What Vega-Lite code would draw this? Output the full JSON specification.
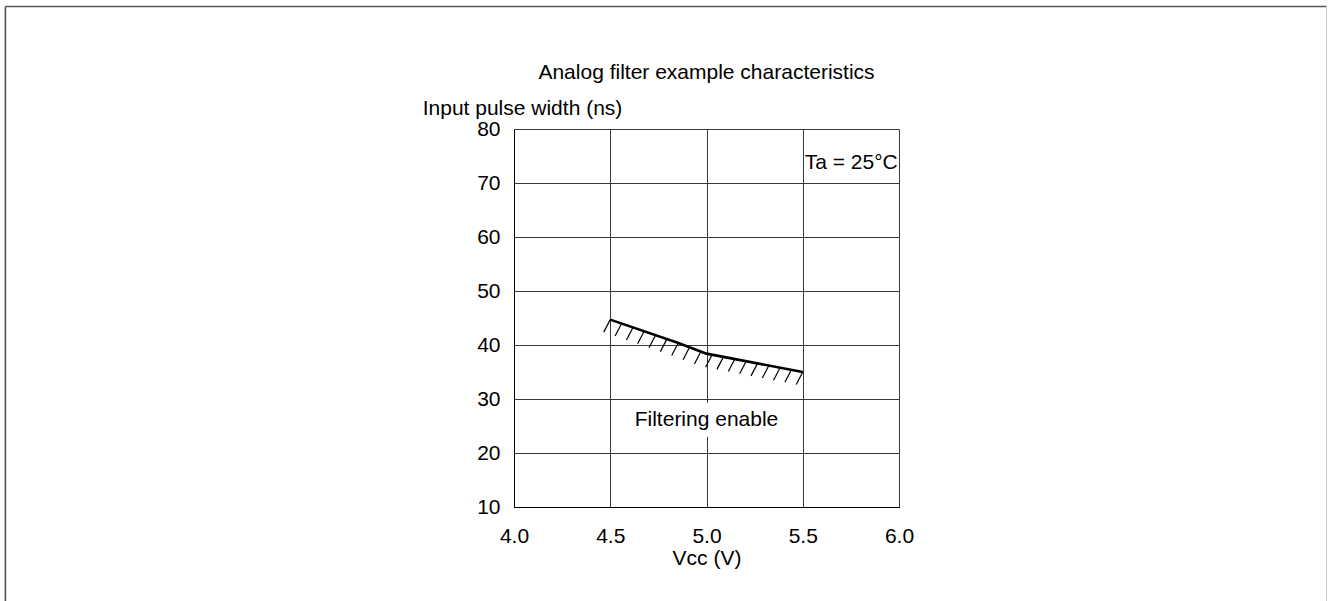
{
  "$schema": "https://vega.github.io/schema/vega-lite/v6.json",
  "width": 385,
  "height": 378,
  "autosize": {"type": "none"},
  "padding": {"left": 514, "top": 129, "right": 429, "bottom": 94},
  "background": "white",
  "title": {
    "text": "Analog filter example characteristics",
    "fontSize": 21,
    "fontWeight": "normal",
    "font": "Liberation Sans",
    "color": "black",
    "anchor": "middle",
    "frame": "group",
    "offset": -77
  },
  "config": {
    "font": "Liberation Sans",
    "view": {"stroke": null},
    "axis": {
      "labelFont": "Liberation Sans",
      "titleFont": "Liberation Sans",
      "labelFontSize": 21,
      "titleFontSize": 21,
      "titleFontWeight": "normal",
      "labelColor": "black",
      "titleColor": "black",
      "domainColor": "black",
      "domainWidth": 1,
      "gridColor": "#3a3a3a",
      "gridWidth": 1,
      "gridOpacity": 1,
      "ticks": false,
      "tickSize": 0,
      "labelFlush": false,
      "labelOverlap": false
    }
  },
  "datasets": {
    "curve": [
      {"vcc": 4.5, "ns": 44.7},
      {"vcc": 4.85, "ns": 40.4},
      {"vcc": 5.0, "ns": 38.4},
      {"vcc": 5.5, "ns": 35.0}
    ],
    "hatch": [
      {"vcc": 4.5, "ns": 44.7},
      {"vcc": 4.559, "ns": 43.97},
      {"vcc": 4.618, "ns": 43.25},
      {"vcc": 4.676, "ns": 42.54},
      {"vcc": 4.735, "ns": 41.81},
      {"vcc": 4.794, "ns": 41.09},
      {"vcc": 4.853, "ns": 40.36},
      {"vcc": 4.912, "ns": 39.57},
      {"vcc": 4.971, "ns": 38.79},
      {"vcc": 5.029, "ns": 38.2},
      {"vcc": 5.088, "ns": 37.8},
      {"vcc": 5.147, "ns": 37.4},
      {"vcc": 5.206, "ns": 37.0},
      {"vcc": 5.265, "ns": 36.6},
      {"vcc": 5.324, "ns": 36.2},
      {"vcc": 5.382, "ns": 35.8},
      {"vcc": 5.441, "ns": 35.4},
      {"vcc": 5.5, "ns": 35.0}
    ],
    "notes": [
      {"vcc": 5.5, "ns": 73.7, "label": "Ta = 25°C", "kind": "left"},
      {"vcc": 5.0, "ns": 26.1, "label": "Filtering enable", "kind": "center"}
    ],
    "textbox": [
      {"vcc": 4.65, "vcc2": 5.35, "ns": 29.3, "ns2": 23.0}
    ],
    "frameDark": [
      {"vcc": 1.358, "vcc2": 1.358, "ns": 102.69, "ns2": -8.15},
      {"vcc": 1.358, "vcc2": 8.221, "ns": 102.69, "ns2": 102.69}
    ],
    "frameLight": [
      {"vcc": 8.221, "vcc2": 8.221, "ns": 102.69, "ns2": -8.15}
    ]
  },
  "encoding": {
    "x": {
      "field": "vcc",
      "type": "quantitative",
      "scale": {"domain": [4, 6], "nice": false, "zero": false},
      "axis": {
        "values": [4, 4.5, 5, 5.5, 6],
        "format": ".1f",
        "title": "Vcc (V)",
        "grid": true,
        "labelPadding": 18,
        "titlePadding": 1
      }
    },
    "y": {
      "field": "ns",
      "type": "quantitative",
      "scale": {"domain": [10, 80], "nice": false, "zero": false},
      "axis": {
        "values": [10, 20, 30, 40, 50, 60, 70, 80],
        "title": "Input pulse width (ns)",
        "grid": true,
        "labelPadding": 14,
        "titleAngle": 0,
        "titleAlign": "center",
        "titleBaseline": "middle",
        "titleX": 8,
        "titleY": -21
      }
    }
  },
  "layer": [
    {
      "data": {"name": "textbox"},
      "mark": {"type": "rect", "color": "white"},
      "encoding": {
        "x2": {"field": "vcc2"},
        "y2": {"field": "ns2"}
      }
    },
    {
      "data": {"name": "curve"},
      "mark": {"type": "line", "color": "black", "strokeWidth": 2.6},
      "encoding": {}
    },
    {
      "data": {"name": "hatch"},
      "mark": {
        "type": "point",
        "shape": "M0,0L-6.5,12.5",
        "size": 4,
        "filled": false,
        "color": "black",
        "strokeWidth": 1.2,
        "opacity": 1
      },
      "encoding": {}
    },
    {
      "data": {"name": "notes"},
      "transform": [{"filter": "datum.kind === 'left'"}],
      "mark": {"type": "text", "align": "left", "baseline": "middle", "dx": 2, "fontSize": 21, "font": "Liberation Sans", "color": "black"},
      "encoding": {"text": {"field": "label"}}
    },
    {
      "data": {"name": "notes"},
      "transform": [{"filter": "datum.kind === 'center'"}],
      "mark": {"type": "text", "align": "center", "baseline": "middle", "fontSize": 21, "font": "Liberation Sans", "color": "black"},
      "encoding": {"text": {"field": "label"}}
    },
    {
      "data": {"name": "frameDark"},
      "mark": {"type": "rule", "color": "#555555", "strokeWidth": 1.6},
      "encoding": {
        "x2": {"field": "vcc2"},
        "y2": {"field": "ns2"}
      }
    },
    {
      "data": {"name": "frameLight"},
      "mark": {"type": "rule", "color": "#c8c8c8", "strokeWidth": 1},
      "encoding": {
        "x2": {"field": "vcc2"},
        "y2": {"field": "ns2"}
      }
    }
  ]
}
